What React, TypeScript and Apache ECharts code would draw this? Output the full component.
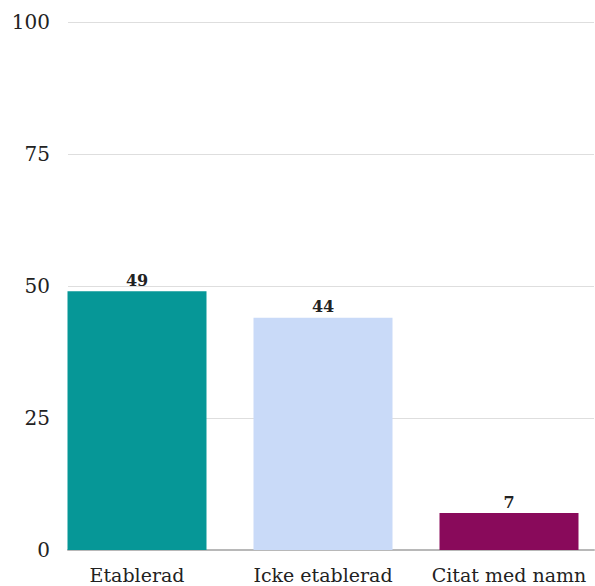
import React, { useEffect, useRef } from "react";
import * as echarts from "echarts";

const categories = ["Etablerad", "Icke etablerad", "Citat med namn"];
const values = [49, 44, 7];
const barColors = ["#069797", "#c9daf8", "#890a5b"];
const yTicks = [0, 25, 50, 75, 100];

const FONT = "'DejaVu Serif', serif";

export default function App() {
  const ref = useRef<HTMLDivElement>(null);
  useEffect(() => {
    if (!ref.current) return;
    const chart = echarts.init(ref.current, undefined, { renderer: "svg" });
    chart.setOption({
      animation: false,
      backgroundColor: "#ffffff",
      grid: [
        { left: 68, right: 1, top: 22, bottom: 36, outerBoundsMode: "none" },
        { left: 44, width: 558, top: 22, bottom: 36, outerBoundsMode: "none" },
      ],
      xAxis: [
        {
          gridIndex: 0,
          type: "value",
          min: 0,
          max: 1,
          axisLine: { show: true, onZero: false, lineStyle: { color: "#b8b8b8", width: 2 } },
          axisTick: { show: false },
          axisLabel: { show: false },
          splitLine: { show: false },
        },
        {
          gridIndex: 1,
          type: "category",
          data: categories,
          axisLine: { show: false },
          axisTick: { show: false },
          axisLabel: {
            color: "#222",
            fontFamily: FONT,
            fontSize: 19,
            lineHeight: 19,
            margin: 15,
            interval: 0,
          },
        },
      ],
      yAxis: [
        {
          gridIndex: 0,
          type: "value",
          min: yTicks[0],
          max: yTicks[yTicks.length - 1],
          interval: 25,
          axisLine: { show: false },
          axisTick: { show: false },
          axisLabel: {
            color: "#222",
            fontFamily: FONT,
            fontSize: 20,
            margin: 18,
          },
          splitLine: { show: true, lineStyle: { color: "#dedede", width: 1 } },
        },
        {
          gridIndex: 1,
          type: "value",
          min: 0,
          max: 100,
          show: false,
          splitLine: { show: false },
        },
      ],
      series: [
        {
          type: "bar",
          xAxisIndex: 1,
          yAxisIndex: 1,
          barWidth: 139,
          data: values.map((v, i) => ({ value: v, itemStyle: { color: barColors[i] } })),
          label: {
            show: true,
            position: "top",
            distance: 3,
            color: "#222",
            fontFamily: FONT,
            fontWeight: "bold",
            fontSize: 16,
          },
        },
      ],
    });
    return () => chart.dispose();
  }, []);
  return <div ref={ref} style={{ width: 595, height: 586, position: "absolute", left: 0, top: 0 }} />;
}
